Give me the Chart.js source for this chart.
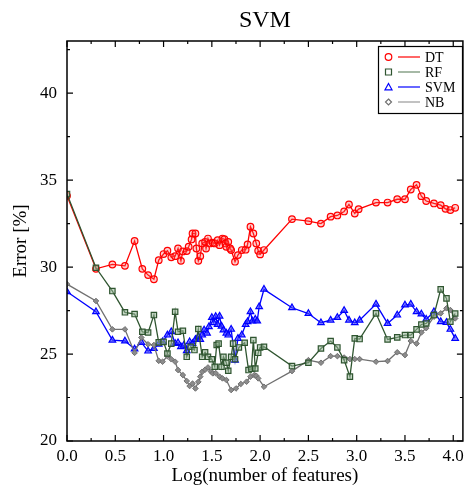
<!DOCTYPE html>
<html>
<head>
<meta charset="utf-8">
<script src="https://cdn.jsdelivr.net/npm/chart.js@4.4.1/dist/chart.umd.min.js"></script>
<style>
	body { margin: 0; background: #fff; }
	canvas { display: block; }
</style>
</head>
<body>
<canvas id="demo" width="469" height="492"></canvas>
<script>
const X_TICKS = [0, 0.5, 1.0, 1.5, 2.0, 2.5, 3.0, 3.5, 4.0]
const Y_TICKS = [20, 25, 30, 35, 40]

const DT_X = [0, 0.3, 0.47, 0.6, 0.7, 0.78, 0.84, 0.9, 0.95, 1.0, 1.04, 1.08, 1.12, 1.15, 1.18, 1.2, 1.24, 1.26, 1.29, 1.3, 1.33, 1.34, 1.36, 1.38, 1.4, 1.43, 1.44, 1.46, 1.48, 1.51, 1.53, 1.56, 1.58, 1.61, 1.63, 1.64, 1.65, 1.67, 1.69, 1.7, 1.74, 1.77, 1.81, 1.85, 1.87, 1.9, 1.93, 1.96, 1.98, 2.0, 2.04, 2.33, 2.5, 2.63, 2.73, 2.8, 2.87, 2.92, 2.98, 3.02, 3.2, 3.32, 3.42, 3.5, 3.56, 3.62, 3.67, 3.72, 3.8, 3.87, 3.92, 3.97, 4.02]
const DT_Y = [34.1, 29.9, 30.15, 30.07, 31.5, 29.9, 29.54, 29.3, 30.4, 30.75, 30.94, 30.56, 30.63, 31.07, 30.36, 30.9, 30.92, 31.17, 31.59, 31.93, 31.93, 31.07, 30.36, 30.63, 31.36, 31.45, 31.07, 31.64, 31.36, 31.4, 31.36, 31.55, 31.26, 31.64, 31.6, 31.36, 31.17, 31.45, 31.07, 30.98, 30.31, 30.69, 30.98, 31.0, 31.3, 32.32, 31.93, 31.36, 30.94, 30.73, 30.98, 32.76, 32.64, 32.5, 32.9, 32.97, 33.2, 33.6, 33.08, 33.33, 33.71, 33.71, 33.9, 33.9, 34.46, 34.73, 34.08, 33.8, 33.66, 33.56, 33.35, 33.28, 33.41]

const RF_X = [0, 0.3, 0.47, 0.6, 0.7, 0.78, 0.84, 0.9, 0.95, 1.0, 1.04, 1.08, 1.12, 1.15, 1.2, 1.24, 1.28, 1.32, 1.36, 1.4, 1.43, 1.46, 1.5, 1.53, 1.55, 1.57, 1.6, 1.62, 1.65, 1.67, 1.7, 1.72, 1.74, 1.78, 1.84, 1.88, 1.91, 1.93, 1.95, 1.98, 2.0, 2.04, 2.33, 2.5, 2.63, 2.73, 2.8, 2.87, 2.93, 2.98, 3.03, 3.2, 3.32, 3.42, 3.5, 3.56, 3.62, 3.67, 3.72, 3.8, 3.87, 3.93, 3.97, 4.02]
const RF_Y = [34.2, 29.96, 28.62, 27.4, 27.3, 26.28, 26.24, 27.24, 25.67, 25.7, 25.03, 25.6, 27.43, 26.28, 26.34, 24.84, 25.42, 25.23, 26.44, 24.84, 25.1, 24.84, 24.7, 24.27, 25.52, 25.6, 24.27, 24.84, 24.5, 24.04, 24.84, 25.6, 24.7, 25.38, 25.65, 24.08, 24.15, 25.8, 24.17, 25.07, 25.38, 25.42, 24.31, 24.5, 25.32, 25.75, 25.38, 24.65, 23.7, 25.9, 25.86, 27.34, 25.84, 25.96, 26.09, 26.09, 26.42, 26.7, 26.76, 27.24, 28.72, 28.2, 26.86, 27.33]

const SVM_X = [0, 0.3, 0.47, 0.6, 0.7, 0.77, 0.84, 0.9, 0.95, 0.99, 1.04, 1.08, 1.12, 1.15, 1.18, 1.21, 1.24, 1.27, 1.3, 1.33, 1.36, 1.38, 1.4, 1.42, 1.45, 1.47, 1.5, 1.52, 1.54, 1.56, 1.58, 1.6, 1.62, 1.65, 1.67, 1.7, 1.74, 1.77, 1.81, 1.85, 1.87, 1.9, 1.92, 1.95, 1.97, 1.99, 2.04, 2.33, 2.5, 2.63, 2.73, 2.8, 2.87, 2.92, 2.98, 3.03, 3.2, 3.32, 3.42, 3.5, 3.56, 3.62, 3.67, 3.72, 3.8, 3.87, 3.93, 3.97, 4.02]
const SVM_Y = [28.58, 27.43, 25.8, 25.75, 25.29, 25.67, 25.17, 25.32, 25.57, 25.7, 26.09, 26.28, 25.6, 25.65, 25.42, 25.5, 25.19, 25.7, 25.6, 25.84, 26.0, 25.84, 26.09, 26.38, 26.2, 26.57, 27.1, 26.8, 27.16, 26.7, 27.18, 26.6, 26.38, 26.2, 26.09, 26.42, 24.65, 25.9, 26.1, 26.7, 26.86, 27.43, 26.9, 27.0, 26.9, 27.72, 28.72, 27.66, 27.33, 26.8, 26.95, 27.1, 27.5, 26.95, 26.8, 26.95, 27.87, 26.76, 27.24, 27.82, 27.87, 27.43, 27.3, 27.0, 27.43, 26.86, 26.82, 26.42, 25.9]

const NB_X = [0, 0.3, 0.47, 0.6, 0.7, 0.77, 0.84, 0.9, 0.95, 0.99, 1.04, 1.08, 1.12, 1.15, 1.2, 1.24, 1.27, 1.3, 1.33, 1.36, 1.38, 1.4, 1.43, 1.46, 1.49, 1.51, 1.54, 1.58, 1.61, 1.65, 1.7, 1.75, 1.8, 1.86, 1.9, 1.94, 1.96, 1.98, 2.04, 2.33, 2.5, 2.63, 2.73, 2.8, 2.87, 2.93, 2.98, 3.03, 3.2, 3.32, 3.42, 3.5, 3.56, 3.62, 3.67, 3.72, 3.8, 3.87, 3.93, 3.97, 4.02]
const NB_Y = [29.02, 28.05, 26.42, 26.42, 25.07, 25.95, 25.56, 25.52, 24.61, 24.56, 24.88, 24.7, 24.56, 24.08, 23.79, 23.45, 23.16, 23.3, 23.02, 23.4, 23.7, 23.98, 24.1, 24.23, 24.0, 23.89, 23.9, 23.7, 23.6, 23.51, 22.93, 23.02, 23.28, 23.41, 23.7, 23.79, 23.75, 23.6, 23.12, 24.02, 24.65, 24.5, 24.88, 24.88, 24.8, 24.71, 24.71, 24.71, 24.56, 24.6, 25.1, 24.94, 25.75, 25.6, 26.24, 26.49, 27.15, 27.34, 27.63, 27.53, 27.05]

const SERIF = '"Liberation Serif", "DejaVu Serif", serif'

const pts = (xs, ys) => xs.map((x, i) => ({x: x, y: ys[i]}))

const data_demo = {
	datasets: [
		{
			label: 'RF',
			data: pts(RF_X, RF_Y),
			borderColor: '#2f5530',
			backgroundColor: 'rgba(150,180,150,0.55)',
			pointStyle: 'rect',
			pointRadius: 3.8,
			pointBorderWidth: 1.2,
		},
		{
			label: 'NB',
			data: pts(NB_X, NB_Y),
			borderColor: '#707070',
			backgroundColor: '#8c8c8c',
			pointStyle: 'rectRot',
			pointRadius: 2.8,
			pointBorderWidth: 1,
		},
		{
			label: 'SVM',
			data: pts(SVM_X, SVM_Y),
			borderColor: '#0000ff',
			backgroundColor: 'rgba(70,70,255,0.6)',
			pointStyle: 'triangle',
			pointRadius: 3.8,
			pointBorderWidth: 1.2,
		},
		{
			label: 'DT',
			data: pts(DT_X, DT_Y),
			borderColor: '#ff0000',
			backgroundColor: 'rgba(255,90,90,0.3)',
			pointStyle: 'circle',
			pointRadius: 3.3,
			pointBorderWidth: 1.2,
		},
	]
};

// legend rows: label, line colour, marker
const LEGEND = [
	{label: 'DT', line: '#ff0000', mark: '#ff0000', shape: 'circle'},
	{label: 'RF', line: '#6b8a6b', mark: '#2f5530', shape: 'rect'},
	{label: 'SVM', line: '#0000ff', mark: '#0000ff', shape: 'triangle'},
	{label: 'NB', line: '#999999', mark: '#707070', shape: 'diamond'},
]

function drawMark(ctx, shape, x, y, color) {
	ctx.save()
	ctx.strokeStyle = color
	ctx.lineWidth = 1.2
	ctx.beginPath()
	if (shape === 'circle') ctx.arc(x, y, 3.3, 0, Math.PI * 2)
	else if (shape === 'rect') ctx.rect(x - 3, y - 3, 6, 6)
	else if (shape === 'triangle') { ctx.moveTo(x, y - 3.5); ctx.lineTo(x + 3.5, y + 2.8); ctx.lineTo(x - 3.5, y + 2.8); ctx.closePath() }
	else { ctx.moveTo(x, y - 3); ctx.lineTo(x + 3, y); ctx.lineTo(x, y + 3); ctx.lineTo(x - 3, y); ctx.closePath() }
	ctx.stroke()
	ctx.restore()
}

const framePlugin = {
	id: 'frame',
	afterDatasetsDraw(chart) {
		const {ctx, chartArea: a, scales} = chart
		ctx.save()
		ctx.strokeStyle = '#000'
		ctx.lineWidth = 1.5
		ctx.strokeRect(a.left, a.top, a.right - a.left, a.bottom - a.top)
		ctx.lineWidth = 1.2
		ctx.beginPath()
		// inward ticks, x every 0.25
		for (let i = 0; i <= 16; i++) {
			const px = scales.x.getPixelForValue(i * 0.25)
			const len = i % 2 === 0 ? 6 : 3
			ctx.moveTo(px, a.bottom); ctx.lineTo(px, a.bottom - len)
			ctx.moveTo(px, a.top); ctx.lineTo(px, a.top + len)
		}
		// y every 2.5
		for (let i = 0; i <= 9; i++) {
			const py = scales.y.getPixelForValue(20 + i * 2.5)
			const len = i % 2 === 0 ? 6 : 3
			ctx.moveTo(a.left, py); ctx.lineTo(a.left + len, py)
			ctx.moveTo(a.right, py); ctx.lineTo(a.right - len, py)
		}
		ctx.stroke()
		ctx.restore()
	},
	afterDraw(chart) {
		const {ctx, chartArea: a} = chart
		ctx.save()
		// title
		ctx.fillStyle = '#000'
		ctx.font = '24px ' + SERIF
		ctx.textAlign = 'center'
		ctx.textBaseline = 'alphabetic'
		ctx.fillText('SVM', (a.left + a.right) / 2, 27)
		// legend box
		const bx = 378.5, by = 46.5, bw = 84, bh = 67
		ctx.fillStyle = '#fff'
		ctx.fillRect(bx, by, bw, bh)
		ctx.strokeStyle = '#000'
		ctx.lineWidth = 1.2
		ctx.strokeRect(bx, by, bw, bh)
		ctx.font = '14px ' + SERIF
		ctx.textAlign = 'left'
		ctx.textBaseline = 'middle'
		LEGEND.forEach((it, i) => {
			const y = 57 + i * 15
			drawMark(ctx, it.shape, 388.5, y, it.mark)
			ctx.strokeStyle = it.line
			ctx.lineWidth = 1.2
			ctx.beginPath()
			ctx.moveTo(398, y); ctx.lineTo(420, y)
			ctx.stroke()
			ctx.fillStyle = '#000'
			ctx.fillText(it.label, 425, y + 1)
		})
		ctx.restore()
	}
}

const config_demo = {
	type: 'scatter',
	data: data_demo,
	options: {
		responsive: false,
		animation: false,
		showLine: true,
		devicePixelRatio: 1,
		layout: {
			padding: {top: 41, right: 2, left: 0, bottom: 0}
		},
		elements: {
			line: {borderWidth: 1.3, tension: 0}
		},
		plugins: {
			legend: {display: false},
			title: {display: false},
			tooltip: {enabled: false}
		},
		scales: {
			x: {
				type: 'linear',
				min: 0,
				max: 4.1,
				afterBuildTicks: (s) => { s.ticks = X_TICKS.map(v => ({value: v})) },
				afterFit: (s) => { s.height = 51 },
				ticks: {
					callback: (v) => Number(v).toFixed(1),
					font: {family: SERIF, size: 17},
					color: '#000',
					padding: 5,
					maxRotation: 0,
					autoSkip: false
				},
				title: {
					display: true,
					text: 'Log(number of features)',
					font: {family: SERIF, size: 19},
					color: '#000',
					padding: {top: 0, bottom: 5}
				},
				grid: {display: false, drawTicks: false},
				border: {display: false}
			},
			y: {
				min: 20,
				max: 43,
				afterBuildTicks: (s) => { s.ticks = Y_TICKS.map(v => ({value: v})) },
				afterFit: (s) => { s.width = 67 },
				ticks: {
					callback: (v) => String(v),
					font: {family: SERIF, size: 17},
					color: '#000',
					padding: 10
				},
				title: {
					display: true,
					text: 'Error [%]',
					font: {family: SERIF, size: 19},
					color: '#000',
					padding: {top: 10, bottom: 0}
				},
				grid: {display: false, drawTicks: false},
				border: {display: false}
			}
		}
	},
	plugins: [framePlugin]
};

const demo = new Chart(
	document.getElementById('demo'),
	config_demo
);
</script>
</body>
</html>
